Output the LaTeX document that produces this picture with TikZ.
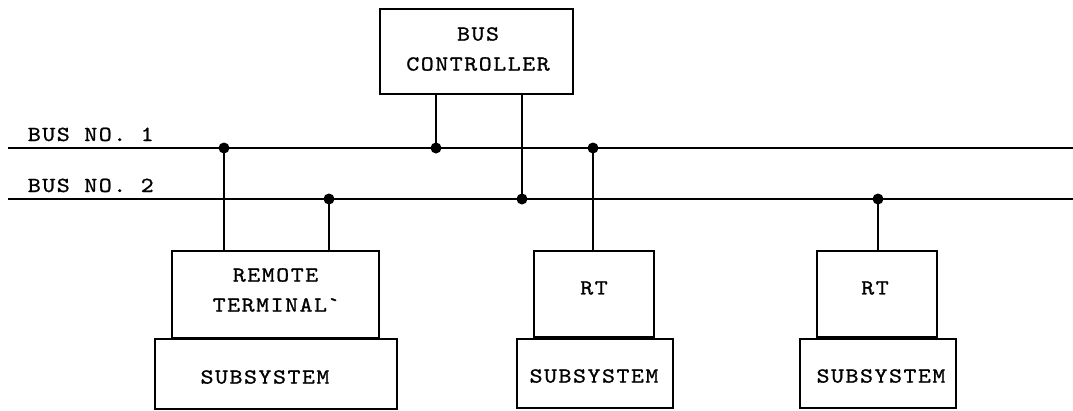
\documentclass[tikz,border=0pt]{standalone}
\usepackage{fontspec}
\newfontfamily\twfam{lmmono10-regular.otf}[FakeStretch=1.15,LetterSpace=7,FakeBold=1]
\newcommand{\twfont}{\fontsize{21.5}{30}\twfam\selectfont}
\begin{document}
\begin{tikzpicture}[x=1pt,y=-1pt,
  line width=1.7pt,
  box/.style={draw, rectangle, inner sep=0pt, align=center, font=\twfont},
  lbl/.style={inner sep=0pt, anchor=west, font=\twfont},
  dot/.style={circle, fill, inner sep=0pt, minimum size=11pt}]
\useasboundingbox (0,0) rectangle (1073,410);
% boxes
\node[box, minimum width=193pt, minimum height=85pt] (bc) at (476.5,51.5) {};
\node[lbl, anchor=center, align=center] (bct) at (478,49) {BUS\\CONTROLLER};
\node[box, minimum width=207pt, minimum height=87pt] (rt1) at (275.5,294.5) {};
\node[lbl, anchor=center, align=center] (rt1t) at (275.5,290) {REMOTE\\TERMINAL\textasciigrave};
\node[box, minimum width=242pt, minimum height=70pt] (ss1) at (276,374) {};
\node[lbl, anchor=center] (ss1t) at (265,377) {SUBSYSTEM};
\node[box, minimum width=120pt, minimum height=86pt] (rt2) at (594,294) {};
\node[box, minimum width=156pt, minimum height=69pt] (ss2) at (595,373.5) {};
\node[lbl, anchor=center] (ss2t) at (594,376) {SUBSYSTEM};
\node[box, minimum width=120pt, minimum height=86pt] (rt3) at (877,294) {};
\node[box, minimum width=156pt, minimum height=69pt] (ss3) at (878,373.5) {};
\node[lbl, anchor=center] (ss3t) at (881,376) {SUBSYSTEM};
\node[lbl, anchor=center] (rt2t) at (594,288) {RT};
\node[lbl, anchor=center] (rt3t) at (875,288) {RT};
% bus labels
\node[lbl, anchor=base west] (l1) at (27,141) {BUS NO. 1};
\node[lbl, anchor=base west] (l2) at (27,192) {BUS NO. 2};
% bus lines
\coordinate (b1L) at (8,148); \coordinate (b1R) at (1073,148);
\coordinate (b2L) at (8,199); \coordinate (b2R) at (1073,199);
\draw (b1L) -- (b1R);
\draw (b2L) -- (b2R);
% junctions
\node[dot] (j1) at (224,148) {};
\node[dot] (j2) at (329,199) {};
\node[dot] (j3) at (436,148) {};
\node[dot] (j4) at (522,199) {};
\node[dot] (j5) at (593,148) {};
\node[dot] (j6) at (878,199) {};
% stubs
\draw (j1.center) -- (j1.center |- rt1.north);
\draw (j2.center) -- (j2.center |- rt1.north);
\draw (j3.center) -- (j3.center |- bc.south);
\draw (j4.center) -- (j4.center |- bc.south);
\draw (j5.center) -- (j5.center |- rt2.north);
\draw (j6.center) -- (j6.center |- rt3.north);
\end{tikzpicture}
\end{document}
